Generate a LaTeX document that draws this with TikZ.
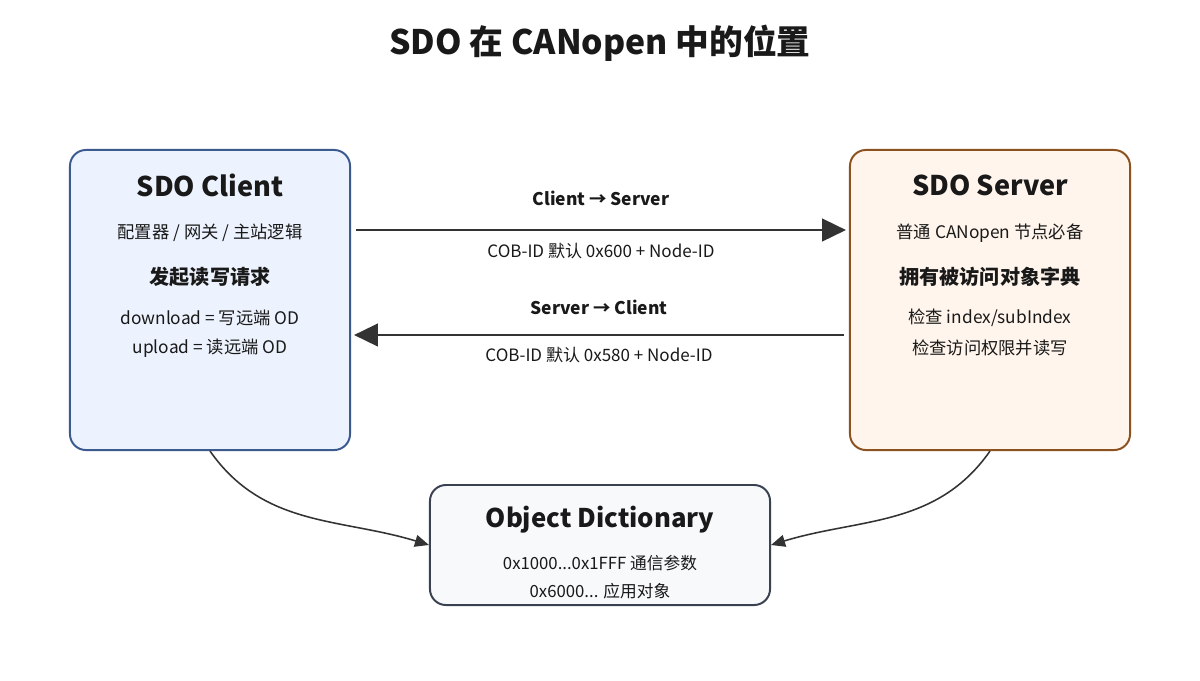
\documentclass[tikz,border=0pt]{standalone}
\usepackage{fontspec}
\setmainfont{Noto Sans CJK SC}
\usepackage{xcolor}
\definecolor{clientline}{HTML}{3B5B8F}
\definecolor{clientfill}{HTML}{EDF3FE}
\definecolor{serverline}{HTML}{8C5220}
\definecolor{serverfill}{HTML}{FFF5EC}
\definecolor{odline}{HTML}{3A4150}
\definecolor{odfill}{HTML}{F7F9FB}
\definecolor{inkgray}{HTML}{333333}
\usetikzlibrary{arrows.meta, positioning}

\begin{document}
\begin{tikzpicture}[x=0.025cm, y=-0.025cm,
	rolebox/.style={rectangle, rounded corners=0.4cm, line width=1.4pt,
	               minimum width=7cm, minimum height=7.5cm},
	odbox/.style={rectangle, rounded corners=0.4cm, line width=1.4pt, draw=odline, fill=odfill,
	              minimum width=8.5cm, minimum height=3cm},
	bigttl/.style={font=\fontsize{24pt}{28pt}\selectfont\bfseries, text=black!90},
	boxttl/.style={font=\fontsize{19.3pt}{23pt}\selectfont\bfseries, text=black!90},
	odttl/.style={font=\fontsize{18.3pt}{22pt}\selectfont\bfseries, text=black!90},
	txt/.style={font=\fontsize{12.3pt}{14pt}\selectfont, text=black!90},
	odtxt/.style={font=\fontsize{11.9pt}{14pt}\selectfont, text=black!90},
	txtb/.style={font=\fontsize{14.3pt}{17pt}\selectfont\bfseries, text=black!90},
	lbl/.style={font=\fontsize{12.4pt}{14pt}\selectfont\bfseries, text=black!90},
	lblsm/.style={font=\fontsize{12.1pt}{14pt}\selectfont, text=black!90},
	msgarr/.style={-{Triangle[length=17pt, width=16pt]}, line width=2pt, draw=inkgray},
	odarr/.style={-{Triangle[length=10pt, width=8.5pt]}, line width=1.1pt, draw=inkgray}
	]
\useasboundingbox[fill=white] (0,0) rectangle (1200,680);

\node[bigttl] (title) at (600,43) {SDO 在 CANopen 中的位置};

% the two ends of an SDO transfer
\node[rolebox, draw=clientline, fill=clientfill] (client) at (210,300) {};
\node[rolebox, draw=serverline, fill=serverfill] (server) at (990,300) {};
\node[odbox] (od) at (600,545) {};

\node[boxttl] (clientTitle) at (210,185) {SDO Client};
\node[txt]  (clientRole) at (210,233) {配置器 / 网关 / 主站逻辑};
\node[txtb] (clientTask) at (210,277) {发起读写请求};
\node[txt]  (clientDown) at (210,318) {download = 写远端 OD};
\node[txt]  (clientUp)   at (210,348) {upload = 读远端 OD};

\node[boxttl] (serverTitle) at (990,185) {SDO Server};
\node[txt]  (serverRole)  at (990,233) {普通 CANopen 节点必备};
\node[txtb] (serverTask)  at (990,277) {拥有被访问对象字典};
\node[txt]  (serverIdx)   at (990,318) {检查 index/subIndex};
\node[txt]  (serverAcc)   at (990,348) {检查访问权限并读写};

\node[odttl] (odTitle) at (600,520) {Object Dictionary};
\node[odtxt] (odComm) at (600,563) {0x1000...0x1FFF 通信参数};
\node[odtxt] (odApp)  at (600,591) {0x6000... 应用对象};

% request and response frames
\draw[msgarr] ([shift={(5,-70)}]client.east) -- ([shift={(-3,-70)}]server.west)
  node[lbl, midway, yshift=0.8cm] (reqLbl) {Client → Server}
  node[lblsm, midway, yshift=-0.53cm] (reqId) {COB-ID 默认 0x600 + Node-ID};
\draw[msgarr] ([shift={(-5,35)}]server.west) -- ([shift={(3,35)}]client.east)
  node[lbl, midway, yshift=0.68cm] (resLbl) {Server → Client}
  node[lblsm, midway, yshift=-0.5cm] (resId) {COB-ID 默认 0x580 + Node-ID};

\draw[odarr] (client.south) to[out=-55, in=163] (od.west);
\draw[odarr] (server.south) to[out=-125, in=17] (od.east);
\end{tikzpicture}
\end{document}
